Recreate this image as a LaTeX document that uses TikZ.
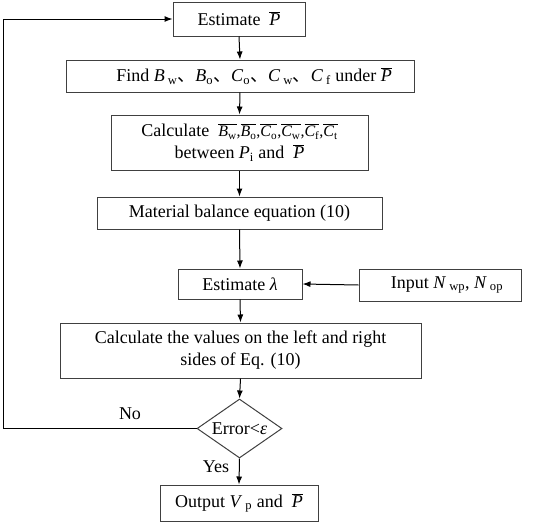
\documentclass[tikz,border=0pt]{standalone}
\usepackage{fontspec}
\setmainfont{Liberation Serif}
\newfontfamily\cjk{Noto Sans CJK SC}
\usetikzlibrary{shapes.geometric, arrows.meta}

\newcommand{\Pbar}{$\overline{\hbox{\itshape P}}$}
\newcommand{\dun}{{\cjk 、}}
\newcommand{\ovs}[2]{$\overline{\hbox{\itshape #1\textsubscript{\upshape #2}}}$}

\tikzset{
  stepbox/.style={draw=black!75, line width=1pt, rectangle, inner sep=0pt, align=center},
  lbl/.style={inner sep=0pt}
}

\begin{document}
\begin{tikzpicture}[>={Latex[length=8pt,width=6pt]}, x=1pt, y=-1pt, line width=1pt, font=\fontsize{18}{22}\selectfont]
\useasboundingbox (0,0) rectangle (547,523);

\node(Est)[stepbox, minimum width=132, minimum height=34] at (239,19) {Estimate \ \Pbar};
\node(Find)[stepbox, minimum width=348, minimum height=32] at (240,76)
  {\hspace*{28pt}Find \textit{B}\,\textsubscript{w}\dun\textit{B}\textsubscript{o}\dun\textit{C}\textsubscript{o}\dun\textit{C}\,\textsubscript{w}\dun\textit{C}\,\textsubscript{f} under \Pbar};
\node(Calc)[stepbox, minimum width=257, minimum height=55] at (239.5,142.5)
  {Calculate \ {\fontsize{16}{18}\selectfont\ovs{B}{w},\ovs{B}{o},\ovs{C}{o},\ovs{C}{w},\ovs{C}{f},\ovs{C}{t}}\\
   between \textit{P}\textsubscript{i} and \ \Pbar};
\node(Mbe)[stepbox, minimum width=285, minimum height=32] at (239.5,213) {Material balance equation (10)};
\node(Lam)[stepbox, minimum width=124, minimum height=30] at (240,284) {Estimate \textit{λ}};
\node(Inp)[stepbox, minimum width=162, minimum height=32] at (440,285)
  {\hspace*{14pt}Input \textit{N}\,\textsubscript{wp}, \textit{N}\,\textsubscript{op}};
\node(Vals)[stepbox, minimum width=361, minimum height=55] at (240.5,350.5)
  {Calculate the values on the left and right\\ sides of Eq. (10)};
\node(Err)[draw=black!75, diamond, aspect=1.44, inner sep=0pt, minimum width=85, minimum height=59] at (239.5,428.5) {Error<\textit{ε}};
\node(Out)[stepbox, minimum width=158, minimum height=36] at (239,503)
  {Output \textit{V}\,\textsubscript{p} and \ \Pbar};

\node(No)[lbl] at (130,414) {No};
\node(Yes)[lbl] at (216,467) {Yes};
\coordinate(Back) at (3,428.5);

\draw (Est.south) edge[->] (Find.north);
\draw (Find.south) edge[->] (Calc.north);
\draw (Calc.south) edge[->] (Mbe.north);
\draw (Mbe.south) edge[->] (Lam.north);
\draw (Inp.west) edge[->] (Lam.east);
\draw (Lam.south) edge[->] (Vals.north);
\draw (Vals.south) edge[->] (Err.north);
\draw (Err.south) edge[->] (Out.north);
\draw[->] (Err.west) -- (Back) |- (Est.west);
\end{tikzpicture}
\end{document}
